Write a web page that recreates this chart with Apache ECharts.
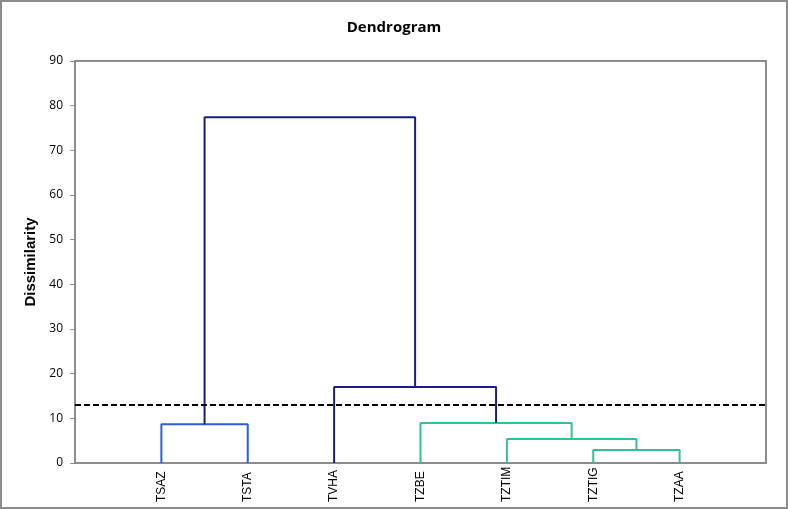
<!DOCTYPE html>
<html>
<head>
<meta charset="utf-8">
<script src="https://cdn.jsdelivr.net/npm/echarts@6/dist/echarts.min.js"></script>
<style>
html,body{margin:0;padding:0;background:#fff;}
#chart{width:788px;height:509px;}
</style>
</head>
<body>
<div id="chart"></div>
<script>
// Leaves (in dendrogram order)
const leaves = ['TSAZ', 'TSTA', 'TVHA', 'TZBE', 'TZTIM', 'TZTIG', 'TZAA'];
// Linkage: node ids 0..6 are leaves, 7.. are merged clusters
const mergeLeft   = [5, 4, 3, 0, 2, 10];
const mergeRight  = [6, 7, 8, 1, 9, 11];
const mergeHeight = [2.9, 5.4, 8.95, 8.7, 17.0, 77.4];
const mergeColor  = ['#2fc48d', '#2fc48d', '#2fc48d', '#2a5fd6', '#1c1c7c', '#1c1c7c'];
const cutoff = 13;
const yTicks = [0, 10, 20, 30, 40, 50, 60, 70, 80, 90];

// node positions: leaf i at x=i+1, height 0
const nodeX = leaves.map((_, i) => i + 1);
const nodeH = leaves.map(() => 0);
const series = [];
mergeLeft.forEach((l, k) => {
  const r = mergeRight[k], h = mergeHeight[k];
  series.push({
    type: 'line', silent: true, showSymbol: false, animation: false,
    lineStyle: {color: mergeColor[k], width: 2},
    data: [[nodeX[l], nodeH[l]], [nodeX[l], h], [nodeX[r], h], [nodeX[r], nodeH[r]]]
  });
  nodeX.push((nodeX[l] + nodeX[r]) / 2);
  nodeH.push(h);
});
series.push({
  type: 'line', data: [], silent: true,
  markLine: {
    silent: true, symbol: 'none', animation: false,
    label: {show: false},
    lineStyle: {color: '#000', type: [6, 3], width: 2},
    data: [{yAxis: cutoff}]
  }
});

const chart = echarts.init(document.getElementById('chart'), null, {renderer: 'canvas'});
chart.setOption({
  animation: false,
  backgroundColor: '#fff',
  title: {
    text: 'Dendrogram', left: 'center', top: 15,
    textStyle: {fontFamily: 'Open Sans', fontWeight: 'bold', fontSize: 15, color: '#000'}
  },
  grid: {left: 75, right: 22, top: 61, bottom: 46, show: true, borderColor: '#8c8c8c', borderWidth: 2,
         containLabel: false, outerBoundsMode: 'none'},
  xAxis: {
    type: 'value', min: 0, max: leaves.length + 1, interval: 1,
    splitLine: {show: false},
    axisTick: {show: false},
    axisLine: {show: true, lineStyle: {color: '#8c8c8c', width: 2}},
    axisLabel: {
      rotate: 90, margin: 39, align: 'left', fontFamily: 'Liberation Sans', fontSize: 12, color: '#000',
      formatter: v => (v >= 1 && v <= leaves.length) ? leaves[v - 1] : ''
    }
  },
  yAxis: {
    type: 'value', min: yTicks[0], max: yTicks[yTicks.length - 1], interval: 10,
    name: 'Dissimilarity', nameLocation: 'middle', nameGap: 33,
    nameTextStyle: {fontFamily: 'Liberation Sans', fontWeight: 'bold', fontSize: 15, color: '#000'},
    splitLine: {show: false},
    axisLine: {show: true, lineStyle: {color: '#8c8c8c', width: 2}},
    axisTick: {show: true, length: 5, lineStyle: {color: '#8c8c8c'}},
    axisLabel: {fontFamily: 'Open Sans', fontSize: 12, color: '#000', margin: 12}
  },
  graphic: [{
    type: 'rect', silent: true,
    shape: {x: 1, y: 1, width: 786, height: 507},
    style: {fill: 'none', stroke: '#8c8c8c', lineWidth: 2}
  }],
  series: series
});
</script>
</body>
</html>
